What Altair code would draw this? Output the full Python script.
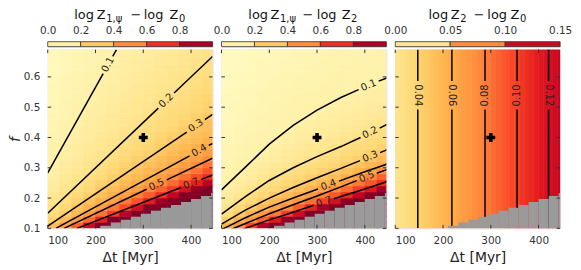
import altair as alt
import pandas as pd

FONT = "DejaVu Sans"
W, H = 166, 180
X_DOMAIN = [100, 445]
F_DOMAIN = [0.1, 0.69]
x_ticks = [100, 200, 300, 400]
f_ticks = [0.1, 0.2, 0.3, 0.4, 0.5, 0.6]

# YlOrRd colour map stops (as fractions of the colour-bar range)
YLORRD = ["#ffffcc", "#ffeda0", "#fed976", "#feb24c", "#fd8d3c", "#fc4e2a", "#e31a1c", "#bd0026", "#800026"]
CMAP_STOPS = [0.0, 0.125, 0.25, 0.375, 0.5, 0.625, 0.75, 0.875, 1.0]

# heat-map grid (Δt columns, f rows); values are the colour value x 100, bottom row first
col_edges = [100, 125, 150, 175, 200, 225, 250, 275, 300, 325, 350, 375, 400, 425, 450]
row_edges = [0.10, 0.12, 0.14, 0.16, 0.18, 0.20, 0.22, 0.24, 0.26, 0.28, 0.30, 0.32, 0.34, 0.36,
             0.38, 0.40, 0.42, 0.44, 0.46, 0.48, 0.50, 0.52, 0.54, 0.56, 0.58, 0.60, 0.62, 0.64,
             0.66, 0.68, 0.69]

p1_grid = [
    [34, 44, 59, 82, 100, 100, 100, 100, 100, 100, 100, 100, 100, 100],
    [27, 35, 44, 57, 73, 100, 100, 100, 100, 100, 100, 100, 100, 100],
    [23, 29, 36, 44, 55, 67, 88, 100, 100, 100, 100, 100, 100, 100],
    [20, 25, 31, 37, 44, 54, 64, 80, 100, 100, 100, 100, 100, 100],
    [18, 22, 27, 32, 38, 44, 53, 62, 74, 93, 100, 100, 100, 100],
    [16, 20, 24, 28, 33, 38, 44, 52, 60, 70, 85, 100, 100, 100],
    [14, 18, 21, 25, 30, 34, 39, 44, 51, 58, 67, 79, 96, 100],
    [13, 16, 19, 23, 27, 31, 35, 39, 44, 50, 57, 65, 74, 88],
    [12, 15, 18, 21, 24, 28, 32, 35, 39, 44, 50, 56, 63, 71],
    [11, 14, 16, 19, 22, 26, 29, 32, 36, 40, 44, 50, 55, 62],
    [10, 13, 15, 18, 21, 24, 27, 30, 33, 36, 40, 44, 49, 55],
    [10, 12, 14, 17, 19, 22, 25, 28, 30, 34, 37, 40, 44, 49],
    [9, 11, 13, 16, 18, 20, 23, 26, 28, 31, 34, 37, 40, 44],
    [9, 11, 13, 15, 17, 19, 22, 24, 26, 29, 32, 35, 38, 41],
    [8, 10, 12, 14, 16, 18, 20, 23, 25, 27, 30, 32, 35, 38],
    [8, 9, 11, 13, 15, 17, 19, 21, 23, 26, 28, 30, 33, 35],
    [7, 9, 11, 13, 14, 16, 18, 20, 22, 24, 26, 29, 31, 33],
    [7, 9, 10, 12, 14, 15, 17, 19, 21, 23, 25, 27, 29, 32],
    [7, 8, 10, 11, 13, 15, 16, 18, 20, 22, 24, 26, 28, 30],
    [6, 8, 9, 11, 12, 14, 16, 17, 19, 21, 23, 24, 26, 28],
    [6, 8, 9, 10, 12, 13, 15, 17, 18, 20, 22, 23, 25, 27],
    [6, 7, 9, 10, 11, 13, 14, 16, 17, 19, 21, 22, 24, 26],
    [6, 7, 8, 10, 11, 12, 14, 15, 17, 18, 20, 21, 23, 25],
    [6, 7, 8, 9, 11, 12, 13, 15, 16, 18, 19, 20, 22, 24],
    [5, 7, 8, 9, 10, 11, 13, 14, 15, 17, 18, 20, 21, 23],
    [5, 6, 8, 9, 10, 11, 12, 14, 15, 16, 18, 19, 20, 22],
    [5, 6, 7, 8, 10, 11, 12, 13, 14, 16, 17, 18, 20, 21],
    [5, 6, 7, 8, 9, 10, 12, 13, 14, 15, 16, 18, 19, 20],
    [5, 6, 7, 8, 9, 10, 11, 12, 13, 15, 16, 17, 18, 20],
    [5, 6, 7, 8, 9, 10, 11, 12, 13, 14, 15, 17, 18, 19],
]

p2_grid = [
    [37, 48, 65, 89, 100, 100, 100, 100, 100, 100, 100, 100, 100, 100],
    [28, 37, 46, 59, 75, 96, 100, 100, 100, 100, 100, 100, 100, 100],
    [22, 29, 37, 45, 54, 66, 82, 100, 100, 100, 100, 100, 100, 100],
    [18, 24, 30, 36, 43, 50, 60, 73, 91, 100, 100, 100, 100, 100],
    [15, 20, 25, 30, 35, 41, 47, 56, 66, 80, 98, 100, 100, 100],
    [13, 17, 21, 25, 30, 34, 39, 45, 52, 61, 71, 86, 100, 100],
    [11, 14, 18, 22, 25, 29, 33, 37, 42, 50, 57, 66, 76, 93],
    [10, 12, 15, 19, 22, 25, 28, 32, 36, 40, 47, 54, 61, 70],
    [9, 11, 13, 16, 20, 22, 25, 28, 31, 34, 39, 44, 52, 58],
    [8, 10, 12, 14, 17, 20, 22, 24, 27, 30, 33, 37, 42, 49],
    [8, 9, 11, 13, 15, 17, 20, 22, 24, 26, 29, 32, 36, 39],
    [7, 9, 10, 11, 13, 15, 17, 20, 22, 23, 26, 28, 31, 34],
    [7, 8, 9, 10, 12, 14, 16, 17, 19, 21, 23, 25, 28, 31],
    [7, 8, 9, 10, 11, 13, 14, 16, 17, 19, 21, 23, 25, 27],
    [6, 7, 8, 9, 10, 11, 13, 14, 16, 17, 19, 21, 23, 25],
    [6, 7, 8, 9, 10, 11, 12, 13, 14, 15, 17, 19, 21, 22],
    [6, 7, 7, 8, 9, 10, 11, 12, 13, 14, 15, 17, 18, 21],
    [5, 6, 7, 8, 9, 9, 10, 11, 12, 13, 14, 15, 17, 18],
    [5, 6, 7, 8, 8, 9, 10, 10, 11, 12, 13, 14, 15, 16],
    [5, 6, 7, 7, 8, 9, 9, 10, 10, 11, 12, 13, 14, 15],
    [5, 6, 6, 7, 8, 8, 9, 9, 10, 10, 11, 12, 13, 14],
    [5, 5, 6, 7, 7, 8, 9, 9, 9, 10, 10, 11, 12, 12],
    [4, 5, 6, 7, 7, 8, 8, 9, 9, 9, 10, 10, 11, 12],
    [4, 5, 6, 6, 7, 7, 8, 8, 9, 9, 9, 10, 10, 11],
    [4, 5, 5, 6, 7, 7, 8, 8, 8, 9, 9, 9, 10, 10],
    [4, 5, 5, 6, 6, 7, 7, 8, 8, 9, 9, 9, 9, 10],
    [4, 4, 5, 6, 6, 7, 7, 8, 8, 8, 9, 9, 9, 9],
    [4, 4, 5, 6, 6, 7, 7, 7, 8, 8, 8, 9, 9, 9],
    [4, 4, 5, 5, 6, 6, 7, 7, 7, 8, 8, 8, 9, 9],
    [4, 4, 5, 5, 6, 6, 7, 7, 7, 8, 8, 8, 8, 9],
]

# third panel only varies with Δt
p3_edges = [100, 110, 120, 130, 140, 150, 160, 170, 180, 190, 200, 210, 220, 230, 240, 250, 260, 270,
            280, 290, 300, 310, 320, 330, 340, 350, 360, 370, 380, 390, 400, 410, 420, 430, 440, 450]
p3_values = [0.0281, 0.0309, 0.0337, 0.0365, 0.0392, 0.0420, 0.0448, 0.0476, 0.0504, 0.0531, 0.0559,
             0.0587, 0.0615, 0.0644, 0.0672, 0.0701, 0.0729, 0.0758, 0.0786, 0.0815, 0.0845, 0.0874,
             0.0904, 0.0933, 0.0962, 0.0992, 0.1022, 0.1052, 0.1082, 0.1112, 0.1142, 0.1172, 0.1202,
             0.1232, 0.1262]

# excluded (grey) region, a staircase
grey_x0 = [210, 232, 253, 274, 295, 316, 337, 358, 379, 400, 421, 442]
grey_x1 = [232, 253, 274, 295, 316, 337, 358, 379, 400, 421, 442, 450]
grey_top = [0.109, 0.119, 0.128, 0.138, 0.148, 0.158, 0.168, 0.177, 0.187, 0.197, 0.207, 0.217]

marker = {"x": [300], "y": [0.4]}

# contour lines: segments of (Δt, f) points, broken where the label sits
p1_contours = [
    [[(100, 0.283), (216, 0.611)], [(236, 0.668), (244, 0.690)]],
    [[(100, 0.150), (331.5, 0.497)], [(364.5, 0.547), (445, 0.6675)]],
    [[(100, 0.107), (391, 0.418)], [(429, 0.459), (445, 0.476)]],
    [[(117, 0.100), (397, 0.339)], [(437, 0.374), (445, 0.380)]],
    [[(134.2, 0.100), (307, 0.229)], [(349, 0.260), (445, 0.3315)]],
    [[(161.3, 0.100), (379, 0.235)], [(421, 0.261), (445, 0.276)]],
]
p1_labels = [("0.1", 226, 0.640, 299), ("0.2", 348, 0.522, 316), ("0.3", 410, 0.439, 326),
             ("0.4", 417, 0.357, 331), ("0.5", 328, 0.244, 335), ("0.7", 400, 0.248, 338)]

p2_contours = [
    [[(100, 0.227), (150, 0.302), (200, 0.378), (250, 0.440), (300, 0.490), (350, 0.532), (387, 0.558)],
     [(429, 0.586), (450, 0.599)]],
    [[(100, 0.147), (150, 0.205), (200, 0.258), (250, 0.300), (300, 0.337), (350, 0.370), (391, 0.400)],
     [(431, 0.431), (450, 0.446)]],
    [[(100, 0.114), (150, 0.160), (200, 0.200), (250, 0.235), (300, 0.267), (350, 0.298), (390, 0.3235)],
     [(432, 0.350), (450, 0.362)]],
    [[(100, 0.096), (150, 0.135), (200, 0.170), (250, 0.200), (302, 0.230)],
     [(346, 0.256), (400, 0.287), (450, 0.314)]],
    [[(100, 0.083), (150, 0.116), (200, 0.148), (250, 0.178), (300, 0.207), (350, 0.237), (383, 0.2575)],
     [(425, 0.282), (450, 0.296)]],
    [[(100, 0.070), (150, 0.100), (200, 0.128), (250, 0.153), (293, 0.176)],
     [(335, 0.1975), (350, 0.205), (400, 0.230), (450, 0.256)]],
]
p2_labels = [("0.1", 408, 0.572, 337), ("0.2", 411, 0.416, 334), ("0.3", 411, 0.337, 338),
             ("0.4", 324, 0.243, 340), ("0.5", 404, 0.270, 339), ("0.7", 314, 0.187, 342)]

p3_lines_x = [147.2, 218.5, 287.9, 355.0, 420.9]
p3_contours = [[[(x, 0.100), (x, 0.492)], [(x, 0.586), (x, 0.690)]] for x in p3_lines_x]
p3_labels = [("0.04", 147.2, 0.539, 90), ("0.06", 218.5, 0.539, 90), ("0.08", 287.9, 0.539, 270),
             ("0.10", 355.0, 0.539, 270), ("0.12", 420.9, 0.539, 90)]

# titles with subscripts: (text, x px, baseline px relative to colour bar top, font size)
titles = [
    [("log", 26.7, -22.7, 13), ("Z", 49.4, -22.7, 13), ("1,ψ", 58.9, -19.6, 10), ("−", 83.4, -22.7, 13),
     ("log", 96.7, -22.7, 13), ("Z", 122.7, -22.7, 13), ("0", 132.2, -19.6, 10)],
    [("log", 27.0, -22.7, 13), ("Z", 49.4, -22.7, 13), ("1,ψ", 58.9, -19.6, 10), ("−", 81.7, -22.7, 13),
     ("log", 96.0, -22.7, 13), ("Z", 121.0, -22.7, 13), ("2", 130.5, -19.6, 10)],
    [("log", 33.4, -22.7, 13), ("Z", 56.0, -22.7, 13), ("2", 65.5, -19.6, 10), ("−", 79.0, -22.7, 13),
     ("log", 92.7, -22.7, 13), ("Z", 116.0, -22.7, 13), ("0", 125.5, -19.6, 10)],
]

cb_ticks = [0.0, 0.2, 0.4, 0.6, 0.8]
cb_edges = [0.0, 0.2, 0.4, 0.6, 0.8, 1.0]
cb3_ticks = [0.0, 0.05, 0.10, 0.15]
cb3_edges = [0.0, 0.05, 0.10, 0.15]


def cscale(vmax):
    return alt.Scale(domain=[s * vmax for s in CMAP_STOPS], range=YLORRD, interpolate="rgb", clamp=True)


def heat_frame(grid):
    rows = []
    for i in range(len(row_edges) - 1):
        for j in range(len(col_edges) - 1):
            rows.append({"x": col_edges[j], "x2": col_edges[j + 1], "y": row_edges[i],
                         "y2": row_edges[i + 1], "v": grid[i][j] / 100})
    return pd.DataFrame(rows)


def heat3_frame():
    return pd.DataFrame({"x": p3_edges[:-1], "x2": p3_edges[1:], "y": F_DOMAIN[0],
                         "y2": F_DOMAIN[1], "v": p3_values})


def seg_frame(contours):
    rows, sid = [], 0
    for segs in contours:
        for seg in segs:
            for k, (x, f) in enumerate(seg):
                rows.append({"seg": sid, "k": k, "x": x, "y": f})
            sid += 1
    return pd.DataFrame(rows)


def label_frame(labels):
    return pd.DataFrame([{"t": t, "x": x, "y": y, "a": a} for t, x, y, a in labels])


grey_df = pd.DataFrame({"x": grey_x0, "x2": grey_x1, "y": F_DOMAIN[0], "y2": grey_top})


def panel(heat_df, vmax, cdf, ldf, show_y):
    xs = alt.Scale(domain=X_DOMAIN, nice=False, zero=False)
    ys = alt.Scale(domain=F_DOMAIN, nice=False, zero=False)
    cs = cscale(vmax)
    xax = alt.Axis(values=x_ticks, format="d", ticks=False, domain=False, grid=False,
                   labelFont=FONT, labelFontSize=10.5, labelColor="#333", labelPadding=7,
                   title="Δt  [Myr]", titleFont=FONT, titleFontSize=14, titleFontWeight="normal",
                   titleColor="#222", titlePadding=5)
    if show_y:
        yax = alt.Axis(values=f_ticks, format=".1f", ticks=False, domain=False, grid=False,
                       labelFont=FONT, labelFontSize=10.5, labelColor="#333", labelPadding=8,
                       title="f", titleFont=FONT, titleFontSize=14, titleFontStyle="italic",
                       titleFontWeight="normal", titleColor="#222", titlePadding=0.5)
    else:
        yax = None

    def X(f):
        return alt.X(f, scale=xs, axis=xax)

    def Y(f):
        return alt.Y(f, scale=ys, axis=yax)

    heat = alt.Chart(heat_df).mark_rect(clip=True, strokeWidth=0.6).encode(
        x=X("x:Q"), x2="x2:Q", y=Y("y:Q"), y2="y2:Q",
        color=alt.Color("v:Q", scale=cs, legend=None),
        stroke=alt.Stroke("v:Q", scale=cs, legend=None))
    lines = alt.Chart(cdf).mark_line(clip=True, color="black", strokeWidth=1.5).encode(
        x=X("x:Q"), y=Y("y:Q"), detail="seg:N", order="k:Q")
    grey = alt.Chart(grey_df).mark_rect(clip=True, color="#9a9a9a").encode(
        x=X("x:Q"), x2="x2:Q", y=Y("y:Q"), y2="y2:Q")
    labs = alt.Chart(ldf).mark_text(font=FONT, fontSize=10, color="#222").encode(
        x=X("x:Q"), y=Y("y:Q"), text="t:N", angle=alt.Angle("a:Q", scale=None))
    plus = alt.Chart(pd.DataFrame(marker)).mark_point(
        shape="cross", filled=True, size=80, color="black", opacity=1).encode(x=X("x:Q"), y=Y("y:Q"))
    xt = pd.DataFrame({"t": x_ticks})
    yt = pd.DataFrame({"t": f_ticks})
    tk = dict(color="#333", strokeWidth=1)
    t_top = alt.Chart(xt).mark_rule(**tk).encode(x=X("t:Q"), y=alt.value(0), y2=alt.value(3.5))
    t_bot = alt.Chart(xt).mark_rule(**tk).encode(x=X("t:Q"), y=alt.value(H - 3.5), y2=alt.value(H))
    t_lft = alt.Chart(yt).mark_rule(**tk).encode(y=Y("t:Q"), x=alt.value(0), x2=alt.value(3.5))
    t_rgt = alt.Chart(yt).mark_rule(**tk).encode(y=Y("t:Q"), x=alt.value(W - 3.5), x2=alt.value(W))
    return alt.layer(heat, lines, grey, labs, plus, t_top, t_bot, t_lft, t_rgt).properties(
        width=W, height=H)


def colorbar(vmax, edges, ticks, fmt, pieces):
    cs = cscale(vmax)
    cb_df = pd.DataFrame({"lo": edges[:-1], "hi": edges[1:],
                          "mid": [(a + b) / 2 for a, b in zip(edges[:-1], edges[1:])]})
    bar = alt.Chart(cb_df).mark_rect(stroke="#333", strokeWidth=0.8).encode(
        x=alt.X("lo:Q", scale=alt.Scale(domain=[0, vmax], nice=False, zero=False),
                axis=alt.Axis(orient="top", values=ticks, format=fmt, ticks=False, tickSize=0,
                              domain=False, grid=False, labelFont=FONT, labelFontSize=10.5,
                              labelColor="#333", labelPadding=6, labelFlush=False, title=None)),
        x2="hi:Q", color=alt.Color("mid:Q", scale=cs, legend=None))
    tdf = pd.DataFrame([{"s": s, "px": px, "py": py, "fs": fs} for s, px, py, fs in pieces])
    title = alt.Chart(tdf).mark_text(font=FONT, align="left", baseline="alphabetic",
                                     color="#111").encode(
        x=alt.X("px:Q", scale=None, axis=None), y=alt.Y("py:Q", scale=None, axis=None),
        size=alt.Size("fs:Q", scale=None, legend=None), text="s:N")
    return alt.layer(bar, title).resolve_scale(x="independent").properties(width=W, height=5)


bars = alt.hconcat(
    colorbar(1.0, cb_edges, cb_ticks, ".1f", titles[0]),
    colorbar(1.0, cb_edges, cb_ticks, ".1f", titles[1]),
    colorbar(0.15, cb3_edges, cb3_ticks, ".2f", titles[2]),
    spacing=9, bounds="flush").resolve_scale(color="independent", x="independent")

panels = alt.hconcat(
    panel(heat_frame(p1_grid), 1.0, seg_frame(p1_contours), label_frame(p1_labels), True),
    panel(heat_frame(p2_grid), 1.0, seg_frame(p2_contours), label_frame(p2_labels), False),
    panel(heat3_frame(), 0.15, seg_frame(p3_contours), label_frame(p3_labels), False),
    spacing=9, bounds="flush").resolve_scale(color="independent", stroke="independent")

chart = alt.vconcat(bars, panels, spacing=1).resolve_scale(
    color="independent", stroke="independent").properties(
    padding={"left": 0, "top": -1, "right": 0, "bottom": 0}).configure_view(
    stroke="#333", strokeWidth=1.2).configure(font=FONT)

chart.save("out.html", embed_options={"renderer": "svg", "actions": False})
